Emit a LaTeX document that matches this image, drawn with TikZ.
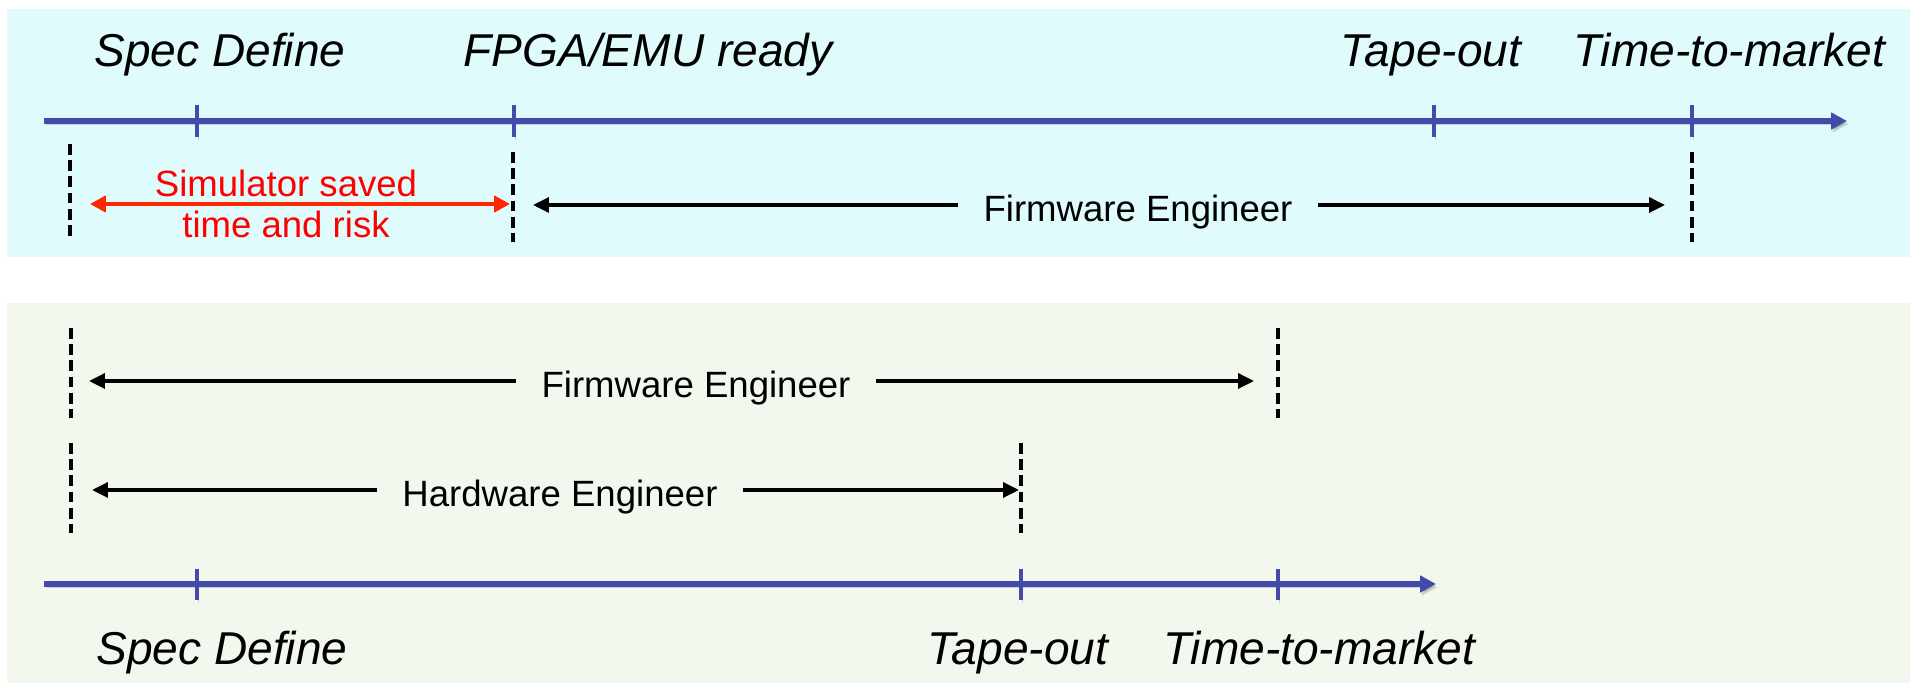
\documentclass[tikz,border=0pt]{standalone}
\usepackage{fontspec}
\setmainfont{Liberation Sans}
\usepackage{xcolor}
\usepackage{tikz}
\usetikzlibrary{arrows.meta}
\definecolor{tlblue}{RGB}{68,74,170}
\definecolor{topbg}{RGB}{224,251,252}
\definecolor{botbg}{RGB}{242,248,238}
\definecolor{simred}{RGB}{255,38,0}

\begin{document}
\begin{tikzpicture}[x=0.01cm,y=-0.01cm,
  timeline/.style={draw=tlblue,line width=1.7pt,-{Triangle[length=4.5pt,width=4.6pt]},
    preaction={draw=black,opacity=0.15,transform canvas={shift={(0.015cm,-0.03cm)}}}},
  mstick/.style={draw=tlblue,line width=1.4pt,
    preaction={draw=black,opacity=0.15,transform canvas={shift={(0.015cm,-0.03cm)}}}},
  milestone/.style={font=\fontsize{13.1}{15.7}\selectfont\itshape,anchor=base},
  guideline/.style={draw=black,line width=1pt,dash pattern=on 3.1pt off 1.5pt},
  duration/.style={draw=black,line width=1pt,-{Triangle[length=4.5pt,width=4.2pt]}},
  role/.style={font=\fontsize{10.4}{12.5}\selectfont,inner xsep=7pt,text height=9.6pt,text depth=0pt}]
\useasboundingbox (0,0) rectangle (1915,683);
\fill[white] (0,0) rectangle (1915,683);
% with simulator
\fill[topbg] (7,9) rectangle (1910,257);
\coordinate (ta0) at (44,121);
\coordinate (ta1) at (1847,121);
\draw[timeline] (ta0) -- (ta1);
\foreach \x in {197,514,1434,1692} \draw[mstick] (\x,105) -- (\x,137);
\node[milestone] (specA) at (220,67) {Spec Define};
\node[milestone] (fpgaA) at (648,67) {FPGA/EMU ready};
\node[milestone] (tapeA) at (1431,67) {Tape-out};
\node[milestone] (ttmA)  at (1729,67) {Time-to-market};
\draw[guideline] (70,144) -- (70,236);
\draw[guideline] (513,152) -- (513,242);
\draw[guideline] (1692,152) -- (1692,242);
\coordinate (simL) at (90,204);
\coordinate (simR) at (510,204);
\draw[simred,line width=1.1pt,{Triangle[length=4.5pt,width=4.6pt]}-{Triangle[length=4.5pt,width=4.6pt]}] (simL) -- (simR);
\node[text=red,align=center,font=\fontsize{10.4}{11.9}\selectfont] (sim) at (286,204) {Simulator saved\\time and risk};
\coordinate (fwAL) at (533,205);
\coordinate (fwAR) at (1665,205);
\node[role] (fwA) at (1138,205) {Firmware Engineer};
\draw[duration] (fwA) -- (fwAL);
\draw[duration] (fwA) -- (fwAR);
% without simulator
\fill[botbg] (7,303) rectangle (1910,683);
\draw[guideline] (71,328) -- (71,418);
\draw[guideline] (1278,328) -- (1278,418);
\draw[guideline] (71,443) -- (71,533);
\draw[guideline] (1021,443) -- (1021,533);
\coordinate (fwBL) at (89,381);
\coordinate (fwBR) at (1254,381);
\node[role] (fwB) at (696,381) {Firmware Engineer};
\draw[duration] (fwB) -- (fwBL);
\draw[duration] (fwB) -- (fwBR);
\coordinate (hwL) at (92,490);
\coordinate (hwR) at (1019,490);
\node[role] (hw) at (560,490) {Hardware Engineer};
\draw[duration] (hw) -- (hwL);
\draw[duration] (hw) -- (hwR);
\coordinate (tb0) at (44,584);
\coordinate (tb1) at (1436,584);
\draw[timeline] (tb0) -- (tb1);
\foreach \x in {197,1021,1278} \draw[mstick] (\x,569) -- (\x,600);
\node[milestone] (specB) at (222,665) {Spec Define};
\node[milestone] (tapeB) at (1018,665) {Tape-out};
\node[milestone] (ttmB)  at (1319,665) {Time-to-market};
\end{tikzpicture}
\end{document}
